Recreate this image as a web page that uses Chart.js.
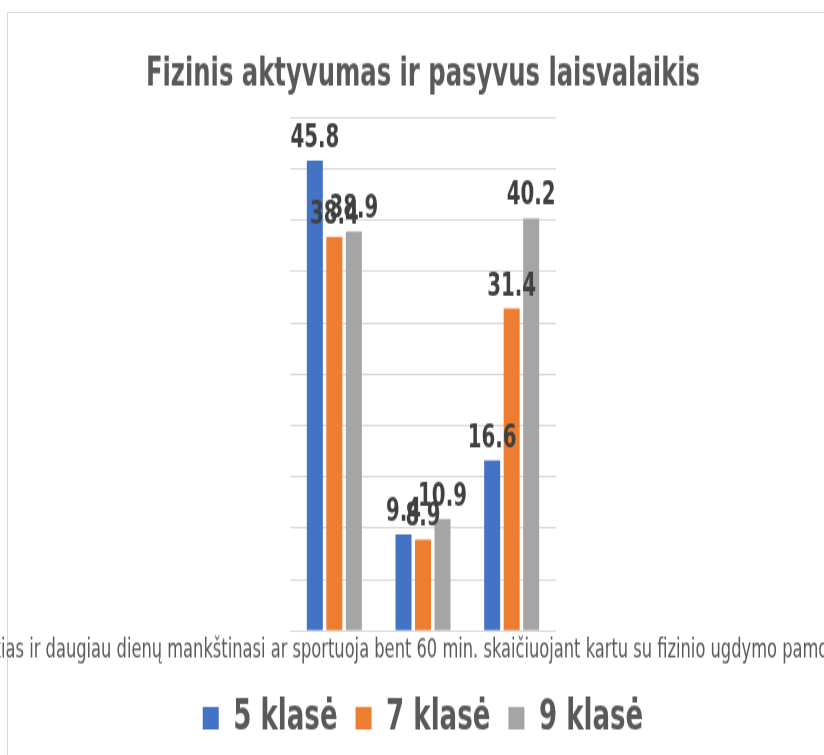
<!DOCTYPE html>
<html>
<head>
<meta charset="utf-8">
<script src="https://cdn.jsdelivr.net/npm/chart.js@4.4.1/dist/chart.umd.min.js"></script>
<style>
  html, body { margin: 0; padding: 0; background: #fff; overflow: hidden; }
  .frame {
    position: absolute; left: 7px; top: 12px; width: 900px; height: 800px;
    border-left: 1px solid #d9d9d9; border-top: 1px solid #d9d9d9;
  }
  /* the reference picture is stretched vertically, so the canvas is too */
  #chart { position: absolute; left: 0; top: 0; width: 824px; height: 755px; }
</style>
</head>
<body>
<div class="frame"></div>
<canvas id="chart" width="824" height="503" style="width:824px;height:755px"></canvas>
<script>
// duomenys
const categories = [
  'Kasdien mankštinasi bent 60 min.',
  'Penkias ir daugiau dienų mankštinasi ar sportuoja bent 60 min. skaičiuojant kartu su fizinio ugdymo pamokomis',
  'Daugiau nei 2 val. per dieną praleidžia prie ekrano'
];
const seriesNames = ['5 klasė', '7 klasė', '9 klasė'];
const grade5 = [45.8, 9.4, 16.6];
const grade7 = [38.4, 8.9, 31.4];
const grade9 = [38.9, 10.9, 40.2];
const seriesColors = ['#4472C4', '#ED7D31', '#A5A5A5'];
const yTicks = { min: 0, max: 50, step: 5 };

const fontFamily = "'DejaVu Sans Condensed', 'DejaVu Sans', sans-serif";

// reikšmės virš stulpelių
const valueLabels = {
  id: 'valueLabels',
  afterDatasetsDraw(chart) {
    const ctx = chart.ctx;
    ctx.save();
    ctx.font = 'bold 22px ' + fontFamily;
    ctx.fillStyle = '#404040';
    ctx.textAlign = 'center';
    ctx.textBaseline = 'alphabetic';
    chart.data.datasets.forEach((ds, i) => {
      chart.getDatasetMeta(i).data.forEach((bar, j) => {
        ctx.fillText(ds.data[j].toFixed(1), bar.x, bar.y - 9);
      });
    });
    ctx.restore();
  }
};

const ctx = document.getElementById('chart').getContext('2d');
new Chart(ctx, {
  type: 'bar',
  data: {
    labels: categories,
    datasets: [grade5, grade7, grade9].map((vals, i) => ({
      label: seriesNames[i],
      data: vals,
      backgroundColor: seriesColors[i],
      categoryPercentage: 0.66,
      barPercentage: 0.82
    }))
  },
  options: {
    responsive: false,
    animation: false,
    layout: { padding: { left: 22, right: 0, top: 0, bottom: 0 } },
    plugins: {
      title: {
        display: true,
        text: 'Fizinis aktyvumas ir pasyvus laisvalaikis',
        color: '#595959',
        font: { family: fontFamily, size: 27, weight: 'bold' },
        padding: { top: 34, bottom: 12 }
      },
      legend: {
        position: 'bottom',
        labels: {
          color: '#595959',
          font: { family: fontFamily, size: 29, weight: 'bold' },
          boxWidth: 16,
          boxHeight: 15,
          padding: 18
        }
      },
      tooltip: { enabled: false }
    },
    scales: {
      x: {
        grid: { display: false, drawTicks: false },
        border: { display: false },
        ticks: {
          autoSkip: false,
          maxRotation: 0,
          minRotation: 0,
          padding: 2,
          labelOffset: -4,
          color: '#595959',
          font: { family: fontFamily, size: 18.1 },
          callback: (v, i) => (i === 1 ? categories[i] : '')
        }
      },
      y: {
        min: yTicks.min,
        max: yTicks.max,
        ticks: { display: false, stepSize: yTicks.step },
        grid: { color: '#d9d9d9', lineWidth: 1, drawTicks: false },
        border: { display: false },
        afterFit: s => { s.width = 268; }
      },
      yRight: {
        position: 'right',
        ticks: { display: false },
        grid: { display: false, drawTicks: false },
        border: { display: false },
        afterFit: s => { s.width = 268; }
      }
    }
  },
  plugins: [valueLabels]
});
</script>
</body>
</html>
